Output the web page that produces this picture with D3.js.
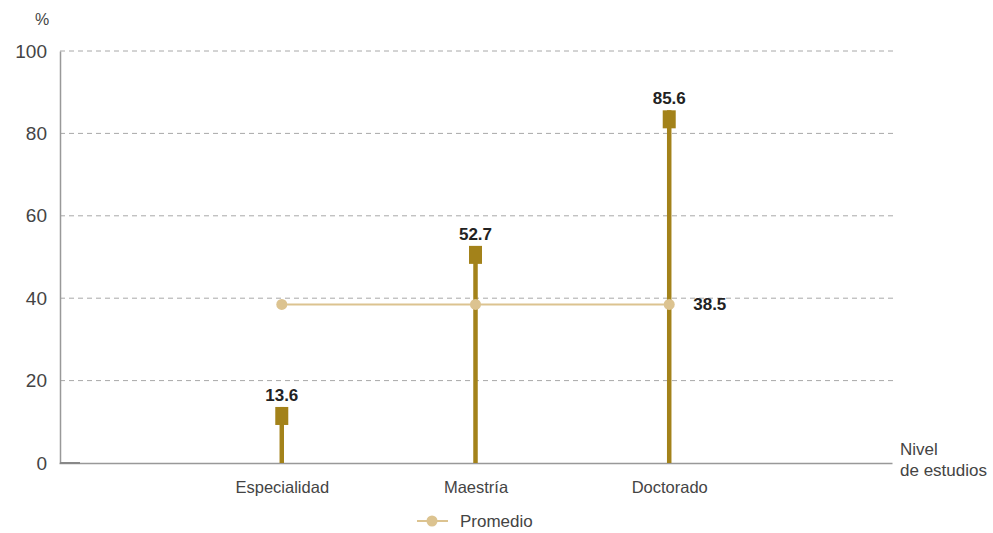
<!DOCTYPE html>
<html><head><meta charset="utf-8">
<script src="https://cdn.jsdelivr.net/npm/d3@7"></script>
<style>body{margin:0;background:#fff;} text{font-family:"Liberation Sans",Arial,sans-serif;}</style>
</head><body>
<svg id="c" width="993" height="533"></svg>
<script>
const categories = ["Especialidad", "Maestría", "Doctorado"];
const values = [13.6, 52.7, 85.6];
const averageValue = 38.5;
const yTicks = [0, 20, 40, 60, 80, 100];
const averageLabel = "Promedio";

const svg = d3.select("#c");
const x = d3.scalePoint().domain(categories).range([59, 892]).padding(1.15);
const y = d3.scaleLinear().domain([0, 100]).range([463, 51]);
const gold = "#a3821a", tan = "#dcc390";

// gridlines
svg.append("g").selectAll("line").data(yTicks.filter(d => d > 0)).join("line")
  .attr("x1", 60).attr("x2", 893).attr("y1", d => y(d)).attr("y2", d => y(d))
  .attr("stroke", "#a8a8a8").attr("stroke-dasharray", "5,4").attr("stroke-width", 1);

// y axis
const yAxis = svg.append("g").attr("transform", "translate(60,0)")
  .call(d3.axisLeft(y).tickValues(yTicks).tickSize(0).tickPadding(13));
yAxis.select(".domain").attr("stroke", "#999").attr("stroke-width", 1.5);
yAxis.selectAll("text").attr("font-size", 19).attr("fill", "#444").style("font-family", "Liberation Sans, Arial, sans-serif");
svg.append("text").attr("x", 42).attr("y", 25).attr("text-anchor", "middle").attr("font-size", 16).attr("fill", "#444").text("%");

// x axis
const xAxis = svg.append("g").attr("transform", "translate(0,463)")
  .call(d3.axisBottom(x).tickSize(0).tickPadding(18));
xAxis.select(".domain").attr("stroke", "#999").attr("stroke-width", 1.5);
xAxis.selectAll("text").attr("font-size", 16.5).attr("fill", "#444").style("font-family", "Liberation Sans, Arial, sans-serif");
svg.append("line").attr("x1", 60).attr("x2", 80).attr("y1", 463).attr("y2", 463).attr("stroke", "#888").attr("stroke-width", 2);

svg.append("text").attr("x", 900).attr("y", 455).attr("font-size", 17).attr("fill", "#444").text("Nivel");
svg.append("text").attr("x", 900).attr("y", 476).attr("font-size", 17).attr("fill", "#444").text("de estudios");

// stems
svg.append("g").selectAll("line").data(values).join("line")
  .attr("x1", (d, i) => x(categories[i])).attr("x2", (d, i) => x(categories[i]))
  .attr("y1", y(0)).attr("y2", d => y(d))
  .attr("stroke", gold).attr("stroke-width", 4.5);

// average line
svg.append("line").attr("x1", x(categories[0])).attr("x2", x(categories[categories.length - 1]))
  .attr("y1", y(averageValue)).attr("y2", y(averageValue)).attr("stroke", tan).attr("stroke-width", 2);
svg.append("g").selectAll("circle").data(categories).join("circle")
  .attr("cx", d => x(d)).attr("cy", y(averageValue)).attr("r", 5.5).attr("fill", tan);
svg.append("text").attr("x", x(categories[2]) + 24).attr("y", y(averageValue) + 6)
  .attr("font-size", 17).attr("font-weight", "bold").attr("fill", "#222").text(averageValue.toFixed(1));

// markers
svg.append("g").selectAll("rect").data(values).join("rect")
  .attr("x", (d, i) => x(categories[i]) - 6.5).attr("y", d => y(d))
  .attr("width", 13).attr("height", 18).attr("fill", gold);
svg.append("g").selectAll("text").data(values).join("text")
  .attr("x", (d, i) => x(categories[i])).attr("y", d => y(d) - 6)
  .attr("text-anchor", "middle").attr("font-size", 17).attr("font-weight", "bold").attr("fill", "#222")
  .text(d => d.toFixed(1));

// legend
svg.append("line").attr("x1", 417).attr("x2", 448).attr("y1", 521).attr("y2", 521).attr("stroke", tan).attr("stroke-width", 2);
svg.append("circle").attr("cx", 432).attr("cy", 521).attr("r", 5.5).attr("fill", tan);
svg.append("text").attr("x", 460).attr("y", 527).attr("font-size", 17).attr("fill", "#444").text(averageLabel);
</script>
</body></html>
